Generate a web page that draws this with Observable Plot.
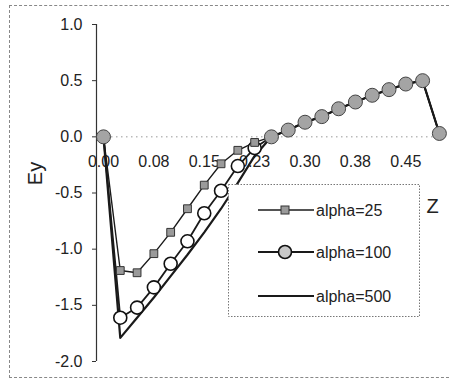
<!DOCTYPE html>
<html><head><meta charset="utf-8">
<script src="https://cdn.jsdelivr.net/npm/d3@7"></script>
<script src="https://cdn.jsdelivr.net/npm/@observablehq/plot@0.6"></script>
<style>
html,body{margin:0;padding:0;background:#fff;}
#wrap{position:relative;width:450px;height:381px;overflow:hidden;font-family:"Liberation Sans",Arial,sans-serif;}
#border{position:absolute;left:9px;top:5px;width:445px;height:373px;border:1px dashed #888;box-sizing:border-box;}
#chart{position:absolute;left:0;top:0;}
#legend{position:absolute;left:228px;top:184px;}
</style></head>
<body><div id="wrap"><div id="border"></div><div id="chart"></div><div id="legend"></div></div>
<script>
const z = [0, 0.025, 0.05, 0.075, 0.1, 0.125, 0.15, 0.175, 0.2, 0.225, 0.25,
           0.275, 0.3, 0.325, 0.35, 0.375, 0.4, 0.425, 0.45, 0.475, 0.5];
const alpha25  = [0, -1.19, -1.21, -1.04, -0.85, -0.64, -0.43, -0.24, -0.12, -0.05, 0.0,
                  0.06, 0.13, 0.18, 0.25, 0.31, 0.37, 0.42, 0.47, 0.50, 0.03];
const alpha100 = [0, -1.61, -1.52, -1.34, -1.13, -0.93, -0.68, -0.48, -0.26, -0.10, 0.0,
                  0.06, 0.13, 0.18, 0.25, 0.31, 0.37, 0.42, 0.47, 0.50, 0.03];
const alpha500 = [0, -1.79, -1.61, -1.43, -1.24, -1.05, -0.85, -0.64, -0.41, -0.17, 0.0,
                  0.06, 0.13, 0.18, 0.25, 0.31, 0.37, 0.42, 0.47, 0.50, 0.03];
const seriesNames = ["alpha=25", "alpha=100", "alpha=500"];
const xTicks = [0, 0.075, 0.15, 0.225, 0.3, 0.375, 0.45];
const xTickLabels = ["0.00", "0.08", "0.15", "0.23", "0.30", "0.38", "0.45"];
const yTicks = [-2, -1.5, -1, -0.5, 0, 0.5, 1];
const yTickLabels = ["-2.0", "-1.5", "-1.0", "-0.5", "0.0", "0.5", "1.0"];
const xLabel = "Z", yLabel = "Ey";

const data = z.map((v, i) => ({
  z: v, a25: alpha25[i], a100: alpha100[i], a500: alpha500[i],
  shared: alpha25[i] === alpha100[i] && alpha100[i] === alpha500[i]
}));
const xDomain = [-0.0104, 0.5106];
const font = "'Liberation Sans', Arial, sans-serif";

const plot = Plot.plot({
  width: 450, height: 381,
  marginLeft: 96, marginRight: 4, marginTop: 24, marginBottom: 20,
  x: {domain: xDomain, axis: null},
  y: {domain: [-2, 1], axis: null},
  style: {fontFamily: font, fontSize: "16px", color: "#222", background: "transparent"},
  marks: [
    Plot.ruleY([0], {stroke: "#999", strokeDasharray: "1.5 3.5", strokeWidth: 1}),
    Plot.ruleX([xDomain[0]], {stroke: "#333", strokeWidth: 1.2}),
    Plot.axisY({ticks: yTicks, tickFormat: d => yTickLabels[yTicks.indexOf(d)], tickSize: 4, tickPadding: 10, fontSize: 16, stroke: "#333"}),
    Plot.text(xTicks, {x: d => d, y: () => 0, text: d => xTickLabels[xTicks.indexOf(d)], dy: 25, fontSize: 16, fill: "#222"}),
    Plot.line(data, {x: "z", y: "a500", stroke: "#1a1a1a", strokeWidth: 2.2}),
    Plot.line(data, {x: "z", y: "a100", stroke: "#1a1a1a", strokeWidth: 1.8}),
    Plot.line(data, {x: "z", y: "a25", stroke: "#1a1a1a", strokeWidth: 1.4}),
    Plot.dot(data.filter(d => !d.shared), {x: "z", y: "a100", r: 6.5, fill: "white", stroke: "#111", strokeWidth: 1.6}),
    Plot.dot(data.filter(d => !d.shared), {x: "z", y: "a25", symbol: "square", r: 4.4, fill: "#9a9a9a", stroke: "#333", strokeWidth: 1}),
    Plot.dot(data.filter(d => d.shared), {x: "z", y: "a25", r: 7, fill: "#a4a4a4", stroke: "#444", strokeWidth: 1}),
    Plot.text([yLabel], {frameAnchor: "left", y: () => -0.43, dx: -61, rotate: -90, fontSize: 20, fill: "#222"}),
    Plot.text([xLabel], {x: () => 0.49, y: () => -0.62, fontSize: 20, fill: "#222"})
  ]
});
document.getElementById("chart").appendChild(plot);

// legend
const lg = d3.select("#legend").append("svg").attr("width", 193).attr("height", 134)
  .style("font-family", font);
lg.append("rect").attr("x", 0.5).attr("y", 0.5).attr("width", 191).attr("height", 132)
  .attr("fill", "white").attr("stroke", "#777").attr("stroke-dasharray", "1.5 1.5");
const rowsY = [26, 68, 112];
const widths = [1.4, 1.8, 2.2];
seriesNames.forEach((name, i) => {
  const g = lg.append("g").attr("transform", `translate(0,${rowsY[i]})`);
  g.append("line").attr("x1", 30).attr("x2", 86).attr("y1", 0).attr("y2", 0)
    .attr("stroke", "#1a1a1a").attr("stroke-width", widths[i]);
  if (i === 0) g.append("rect").attr("x", 53).attr("y", -4).attr("width", 8).attr("height", 8)
    .attr("fill", "#9a9a9a").attr("stroke", "#333");
  if (i === 1) g.append("circle").attr("cx", 57).attr("cy", 0).attr("r", 6.5)
    .attr("fill", "#c8c8c8").attr("stroke", "#111").attr("stroke-width", 1.6);
  g.append("text").attr("x", 88).attr("y", 0).attr("dy", "0.35em").attr("font-size", 16)
    .attr("fill", "#222").text(name);
});
</script>
</body></html>
